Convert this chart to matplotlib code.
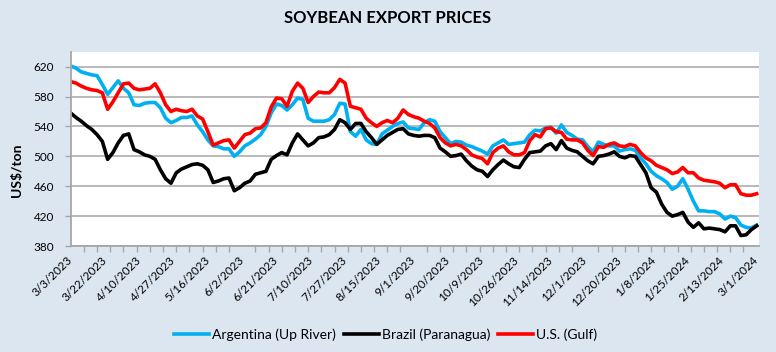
import matplotlib
matplotlib.use("Agg")
import matplotlib.pyplot as plt
import numpy as np
import pandas as pd

# business-day category axis, one reading every 2 trading days
dates = pd.bdate_range("2023-03-03", "2024-03-01")
step = 2

argentina = [621, 618, 613, 611, 609, 608, 596, 583, 592, 601, 591, 585, 569, 568, 571, 572,
             572, 565, 551, 545, 548, 552, 552, 554, 542, 533, 522, 514, 513, 510, 510, 500,
             506, 514, 518, 523, 529, 540, 558, 570, 568, 562, 569, 578, 576, 551, 547, 547,
             547, 549, 556, 571, 570, 533, 527, 536, 522, 517, 516, 530, 535, 540, 544, 546,
             538, 537, 536, 545, 549, 547, 533, 525, 517, 520, 519, 515, 513, 510, 507, 503,
             514, 518, 522, 516, 517, 518, 519, 529, 535, 534, 538, 539, 531, 542, 532, 528,
             523, 522, 513, 506, 519, 516, 514, 514, 507, 509, 510, 508, 498, 490, 480, 474,
             470, 465, 456, 460, 470, 456, 440, 427, 427, 426, 426, 423, 416, 420, 418, 408,
             405, 404, 408]
brazil = [558, 552, 547, 541, 536, 529, 520, 496, 505, 518, 528, 530, 509, 506, 502, 500,
          496, 482, 470, 464, 478, 483, 486, 489, 490, 488, 482, 465, 467, 470, 471, 454,
          458, 464, 467, 476, 478, 480, 496, 501, 505, 502, 518, 530, 522, 514, 518, 525,
          526, 529, 536, 549, 545, 536, 544, 544, 533, 525, 516, 522, 528, 532, 536, 537,
          530, 528, 527, 528, 528, 525, 511, 506, 500, 501, 503, 494, 487, 482, 480, 473,
          482, 489, 495, 490, 486, 485, 496, 505, 506, 507, 514, 517, 509, 521, 511, 508,
          506, 500, 494, 490, 500, 501, 503, 506, 500, 498, 501, 500, 489, 478, 458, 452,
          436, 425, 420, 422, 425, 412, 405, 411, 403, 404, 403, 402, 399, 407, 407, 394,
          395, 402, 407]
us_gulf = [600, 598, 594, 591, 589, 588, 585, 563, 573, 585, 597, 598, 591, 589, 590, 591,
           597, 585, 569, 560, 563, 561, 560, 563, 554, 550, 533, 515, 518, 521, 522, 511,
           520, 529, 531, 537, 538, 545, 566, 578, 577, 567, 587, 598, 591, 572, 580, 586,
           585, 585, 592, 603, 598, 567, 565, 563, 551, 545, 540, 545, 548, 545, 551, 562,
           556, 553, 551, 547, 544, 538, 525, 518, 514, 516, 514, 509, 502, 499, 497, 490,
           505, 511, 514, 506, 502, 502, 505, 521, 529, 526, 537, 538, 533, 532, 523, 522,
           522, 518, 508, 501, 513, 512, 516, 518, 514, 513, 516, 514, 505, 498, 494, 488,
           485, 482, 477, 479, 485, 478, 478, 471, 468, 467, 466, 464, 458, 462, 462, 450,
           448, 448, 450]

series = [("Argentina (Up River)", argentina, "#00b0f0"),
          ("Brazil (Paranagua)", brazil, "#000000"),
          ("U.S. (Gulf)", us_gulf, "#ff0000")]

y_ticks = [380, 420, 460, 500, 540, 580, 620]
label_every = 13

plt.rcParams["font.family"] = ["Lato", "DejaVu Sans"]
bg = "#dce6f1"
grid_c = "#a6a6a6"

fig = plt.figure(figsize=(7.76, 3.52), dpi=100, facecolor=bg)
ax = fig.add_axes([0.0911, 0.3011, 0.8874, 0.552])
ax.set_facecolor("white")

idx = np.arange(len(dates))[::step]
for name, vals, color in series:
    ax.plot(idx[:len(vals)], vals, color=color, linewidth=2.6, label=name,
            solid_joinstyle="round")

ax.set_xlim(0, len(dates))
ax.set_ylim(380, 640)
ax.set_yticks(y_ticks)
ax.yaxis.grid(True, color=grid_c, linewidth=1.1)
ax.set_axisbelow(True)

lab_pos = np.arange(0, len(dates), label_every)
ax.set_xticks(lab_pos)
ax.set_xticklabels([f"{d.month}/{d.day}/{d.year}" for d in dates[lab_pos]],
                   rotation=45, ha="right", va="center", rotation_mode="anchor")
ax.set_xticks(np.arange(0, len(dates), 5), minor=True)
ax.tick_params(axis="x", which="major", length=0, pad=9, labelsize=8.5)
ax.tick_params(axis="x", which="minor", length=4, color=grid_c, width=1)
ax.tick_params(axis="y", length=4, color=grid_c, width=1, pad=8, labelsize=8.5)

for s in ["top", "right"]:
    ax.spines[s].set_visible(False)
for s in ["left", "bottom"]:
    ax.spines[s].set_color(grid_c)
    ax.spines[s].set_linewidth(1.3)

fig.text(0.5, 0.948, "SOYBEAN EXPORT PRICES", ha="center", va="center",
         fontsize=12, fontweight="bold")
fig.text(0.022, 1 - 170 / 352, "US$/ton", rotation=90, ha="center", va="center",
         fontsize=10, fontweight="bold")

fig.legend(loc="center", bbox_to_anchor=(0.497, 1 - 335 / 352), ncol=3,
           frameon=False, fontsize=10, handlelength=2.5, handletextpad=0.2,
           columnspacing=0.6)

fig.savefig("out.png", dpi=100, facecolor=bg)
